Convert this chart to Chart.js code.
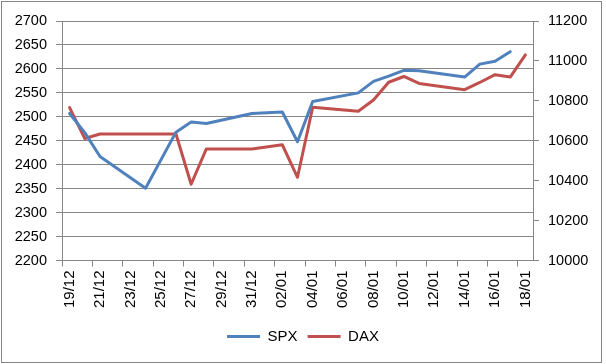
<!DOCTYPE html>
<html>
<head>
<meta charset="utf-8">
<script src="https://cdn.jsdelivr.net/npm/chart.js@4.4.1/dist/chart.umd.min.js"></script>
<style>
  html, body { margin: 0; padding: 0; background: #ffffff; }
  #wrap { position: relative; width: 606px; height: 364px; }
</style>
</head>
<body>
<div id="wrap"><canvas id="c" width="606" height="364"></canvas></div>
<script>
// ---- data ----
const categories = ['19/12','20/12','21/12','22/12','23/12','24/12','25/12','26/12','27/12','28/12','29/12','30/12','31/12',
  '01/01','02/01','03/01','04/01','05/01','06/01','07/01','08/01','09/01','10/01','11/01','12/01','13/01','14/01','15/01','16/01','17/01','18/01'];
const spxValues = [2507, 2467, 2417, null, null, 2351, null, 2468, 2489, 2486, null, null, 2507,
  null, 2510, 2448, 2532, null, null, 2550, 2574, 2585, 2597, 2596, null, null, 2583, 2610, 2616, 2636, null];
const daxValues = [10766, 10611, 10634, null, null, 10634, null, 10634, 10382, 10559, null, null, 10559,
  null, 10580, 10417, 10768, null, null, 10748, 10804, 10893, 10922, 10887, null, null, 10856, 10892, 10931, 10919, 11030];
const leftTicks = { min: 2200, max: 2700, step: 50 };
const rightTicks = { min: 10000, max: 11200, step: 200 };

const GRID = '#868686';
const BLUE = '#4F81BD';
const RED = '#C0504D';

Chart.defaults.font.family = '"Liberation Sans", Arial, sans-serif';
Chart.defaults.font.size = 14.5;
Chart.defaults.color = '#000000';

const borderPlugin = {
  id: 'outerBorder',
  afterDraw(chart) {
    const ctx = chart.ctx;
    ctx.save();
    ctx.strokeStyle = GRID;
    ctx.lineWidth = 1;
    ctx.strokeRect(1.5, 1.5, 600, 361);
    ctx.restore();
  }
};

const bgPlugin = {
  id: 'bg',
  beforeDraw(chart) {
    const ctx = chart.ctx;
    ctx.save();
    ctx.fillStyle = '#ffffff';
    ctx.fillRect(0, 0, chart.width, chart.height);
    ctx.restore();
  }
};

new Chart(document.getElementById('c'), {
  type: 'line',
  data: {
    labels: categories,
    datasets: [
      { label: 'SPX', data: spxValues, yAxisID: 'y', borderColor: BLUE, backgroundColor: BLUE,
        borderWidth: 3, pointRadius: 0, spanGaps: true, tension: 0,
        borderJoinStyle: 'round', borderCapStyle: 'round' },
      { label: 'DAX', data: daxValues, yAxisID: 'y2', borderColor: RED, backgroundColor: RED,
        borderWidth: 3, pointRadius: 0, spanGaps: true, tension: 0,
        borderJoinStyle: 'round', borderCapStyle: 'round' }
    ]
  },
  options: {
    responsive: false,
    animation: false,
    devicePixelRatio: 1,
    layout: { padding: { top: 21, left: 0, right: 0, bottom: 10 } },
    plugins: {
      tooltip: { enabled: false },
      legend: {
        position: 'bottom',
        labels: {
          boxWidth: 33, boxHeight: 3, padding: 10,
          font: { size: 15 },
          generateLabels(chart) {
            const items = Chart.defaults.plugins.legend.labels.generateLabels(chart);
            items.forEach(it => { it.lineWidth = 0; });
            return items;
          }
        }
      }
    },
    scales: {
      x: {
        type: 'category',
        offset: true,
        grid: {
          offset: true,
          drawOnChartArea: false,
          drawTicks: true,
          tickLength: 6,
          color: ctx => (ctx.index % 2 === 0 ? GRID : 'rgba(0,0,0,0)'),
          tickColor: ctx => (ctx.index % 2 === 0 ? GRID : 'rgba(0,0,0,0)')
        },
        border: { display: true, color: GRID, width: 1 },
        ticks: {
          autoSkip: false, minRotation: 90, maxRotation: 90, padding: 4,
          font: { size: 15 },
          callback: function (value, index) { return index % 2 === 0 ? this.getLabelForValue(value) : ''; }
        },
        afterFit(scale) { scale.height = 58.5; }
      },
      y: {
        position: 'left',
        min: leftTicks.min, max: leftTicks.max,
        grid: { color: GRID, tickLength: 6, drawTicks: true },
        border: { display: true, color: GRID, width: 1 },
        ticks: { stepSize: leftTicks.step, padding: 9, callback: v => String(v) },
        afterFit(scale) { scale.width = 62; }
      },
      y2: {
        position: 'right',
        min: rightTicks.min, max: rightTicks.max,
        grid: { drawOnChartArea: false, color: GRID, tickLength: 6, drawTicks: true },
        border: { display: true, color: GRID, width: 1 },
        ticks: { stepSize: rightTicks.step, padding: 9, callback: v => String(v) },
        afterFit(scale) { scale.width = 73; }
      }
    }
  },
  plugins: [bgPlugin, borderPlugin]
});
</script>
</body>
</html>
